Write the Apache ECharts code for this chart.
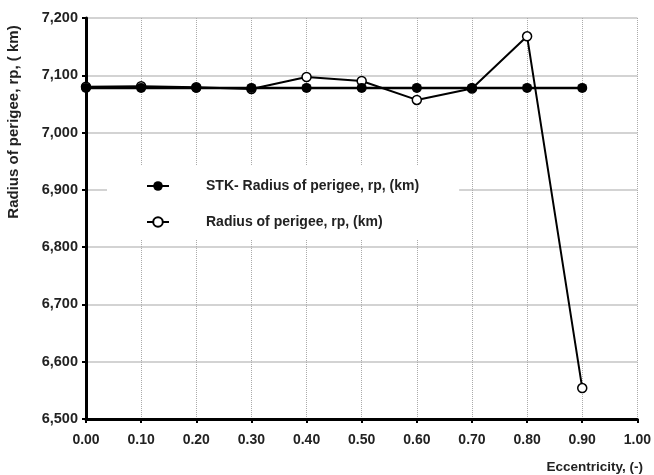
<!DOCTYPE html>
<html>
<head>
<meta charset="utf-8">
<script src="https://cdn.jsdelivr.net/npm/echarts@6/dist/echarts.min.js"></script>
<style>
html, body { margin: 0; padding: 0; background: #fff; }
#chart { width: 654px; height: 475px; }
</style>
</head>
<body>
<div id="chart"></div>
<script>
var ecc = [0.0, 0.1, 0.2, 0.3, 0.4, 0.5, 0.6, 0.7, 0.8, 0.9]
var stkRp = [7078, 7078, 7078, 7078, 7078, 7078, 7078, 7078, 7078, 7078]
var rp = [7080, 7081, 7079, 7076, 7097, 7090, 7057, 7077, 7168, 6554]
var names = ['STK- Radius of perigee, rp, (km)', 'Radius of perigee, rp, (km)']

var font = 'Liberation Sans, Arial, sans-serif'

function pairs(xs, ys) {
    return xs.map(function (x, i) { return [x, ys[i]] })
}

var chart = echarts.init(document.getElementById('chart'))

var option = {
    backgroundColor: '#fff',
    animation: false,
    grid: { left: 86, right: 16, top: 18, bottom: 56 },
    legend: {
        orient: 'vertical',
        left: 107,
        top: 165,
        padding: [14, 40, 11, 39],
        itemGap: 22,
        itemWidth: 22,
        itemHeight: 12,
        backgroundColor: '#fff',
        data: names,
        textStyle: { fontFamily: font, fontWeight: 'bold', fontSize: 14, color: '#222', padding: [0, 0, 0, 32] }
    },
    xAxis: {
        type: 'value',
        min: 0,
        max: 1,
        interval: 0.1,
        axisLine: { lineStyle: { color: '#000', width: 3 } },
        axisTick: { length: 4, lineStyle: { color: '#000', width: 2 } },
        axisLabel: {
            margin: 14,
            fontFamily: font, fontWeight: 'bold', fontSize: 14, color: '#222',
            formatter: function (v) { return v.toFixed(2) }
        },
        splitLine: { show: true, lineStyle: { color: '#aaa', type: 'dotted', width: 1 } }
    },
    yAxis: {
        type: 'value',
        min: 6500,
        max: 7200,
        interval: 100,
        axisLine: { show: true, lineStyle: { color: '#000', width: 3 } },
        axisTick: { show: true, length: 4, lineStyle: { color: '#000', width: 2 } },
        axisLabel: {
            margin: 8,
            fontFamily: font, fontWeight: 'bold', fontSize: 14.5, color: '#222',
            formatter: function (v) { return v.toLocaleString('en-US') }
        },
        splitLine: { show: true, lineStyle: { color: '#c4c4c4', width: 1.5 } }
    },
    graphic: [
        {
            type: 'text',
            x: 14, y: 122,
            rotation: Math.PI / 2,
            style: {
                text: 'Radius of perigee, rp, ( km)',
                fontFamily: font, fontWeight: 'bold', fontSize: 15, fill: '#222',
                align: 'center', verticalAlign: 'middle'
            }
        },
        {
            type: 'text',
            x: 643, y: 467,
            style: {
                text: 'Eccentricity, (-)',
                fontFamily: font, fontWeight: 'bold', fontSize: 13.5, fill: '#222',
                align: 'right', verticalAlign: 'middle'
            }
        }
    ],
    series: [
        {
            name: names[0],
            type: 'line',
            z: 4,
            data: pairs(ecc, stkRp),
            symbol: 'circle',
            symbolSize: 10,
            itemStyle: { color: '#000' },
            lineStyle: { color: '#000', width: 2.5 }
        },
        {
            name: names[1],
            type: 'line',
            z: 3,
            data: pairs(ecc, rp),
            symbol: 'circle',
            symbolSize: 9,
            itemStyle: { color: '#fff', borderColor: '#000', borderWidth: 1.5 },
            lineStyle: { color: '#000', width: 2 }
        }
    ]
}

chart.setOption(option)
</script>
</body>
</html>
